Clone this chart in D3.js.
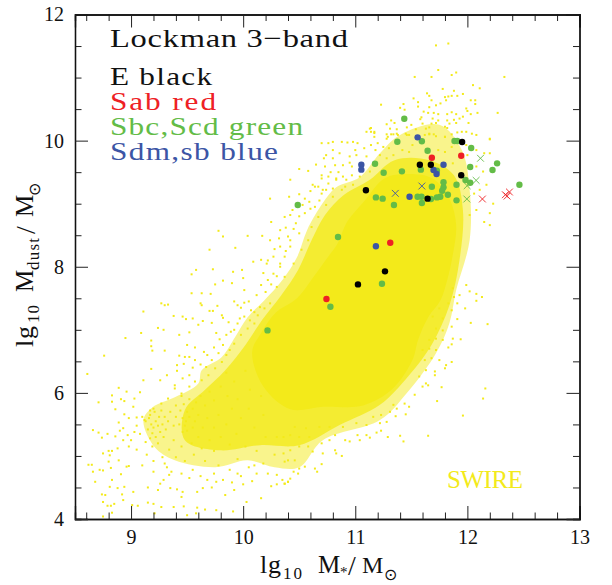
<!DOCTYPE html>
<html><head><meta charset="utf-8">
<script src="https://cdnjs.cloudflare.com/ajax/libs/d3/7.8.5/d3.min.js"></script>
<style>html,body{margin:0;background:#fff}svg{display:block}text{font-family:"Liberation Serif",serif}</style>
</head><body><svg id="c" width="612" height="585"></svg>
<script>
// All values are read by eye from the picture, in axis units.
const xMajor=[9,10,11,12,13];
const yMajor=[4,6,8,10,12];
const xMinor=[8.6,8.8,9.2,9.4,9.6,9.8,10.2,10.4,10.6,10.8,11.2,11.4,11.6,11.8,12.2,12.4,12.6,12.8];
const yMinor=[4.5,5,5.5,6.5,7,7.5,8.5,9,9.5,10.5,11,11.5];

// Outlines of the cloud's density: solid centre, thick band, thin surround.
const cloudCore=[[10.08,6.65],[10.16,6.95],[10.29,7.27],[10.48,7.50],[10.64,7.87],[10.75,8.14],[10.84,8.36],[10.93,8.72],[11.08,9.04],[11.26,9.40],[11.46,9.47],[11.69,9.40],[11.84,9.08],[11.90,8.66],[11.87,8.19],[11.82,7.79],[11.76,7.47],[11.65,7.20],[11.56,6.84],[11.51,6.52],[11.33,6.06],[11.07,5.80],[10.71,5.78],[10.42,5.74],[10.18,6.10]];
const cloudBand=[[9.48,5.25],[9.48,5.73],[9.66,6.05],[9.84,6.36],[10.02,6.76],[10.17,7.16],[10.34,7.55],[10.49,7.95],[10.61,8.42],[10.73,8.82],[10.90,9.14],[11.13,9.38],[11.35,9.69],[11.66,9.69],[11.88,9.45],[11.96,8.90],[11.93,8.11],[11.84,7.39],[11.68,6.76],[11.48,6.28],[11.22,5.81],[10.86,5.49],[10.50,5.17],[10.15,5.17],[9.79,5.09]];
const cloudSurround=[[9.11,5.57],[9.19,5.77],[9.39,5.93],[9.60,6.15],[9.63,6.36],[9.81,6.57],[9.93,6.89],[10.04,7.20],[10.19,7.47],[10.35,7.79],[10.48,8.15],[10.57,8.58],[10.71,9.01],[10.83,9.26],[11.04,9.42],[11.22,9.80],[11.40,10.09],[11.75,10.25],[11.95,9.85],[12.02,9.22],[12.02,8.42],[11.90,7.63],[11.84,7.11],[11.72,6.63],[11.46,6.00],[11.22,5.57],[10.71,5.25],[10.50,4.82],[10.28,4.82],[10.04,4.93],[9.75,4.82],[9.39,4.93],[9.21,5.14]];

const cloudLowerLeft=[[9.27,7.42],[9.30,7.39],[9.33,7.40],[9.62,7.42],[9.63,7.39],[9.77,7.38],[9.92,7.45],[9.95,7.39],[10.01,7.43],[9.11,7.29],[9.38,7.22],[9.46,7.21],[9.49,7.17],[9.55,7.18],[9.70,7.30],[9.73,7.30],[9.81,7.23],[9.82,7.19],[9.60,7.08],[9.64,7.14],[9.72,7.11],[9.24,7.03],[9.29,7.00],[9.09,6.95],[9.52,6.96],[9.43,6.92],[8.95,6.87],[9.18,6.83],[9.18,6.74],[9.19,6.67],[9.30,6.67],[8.76,6.59],[9.50,6.76],[9.57,6.72],[9.65,6.65],[9.43,6.59],[9.48,6.57],[9.52,6.57],[9.57,6.52],[9.41,6.44],[9.47,6.46],[9.18,6.38],[9.41,6.35],[8.61,6.30],[9.11,6.20],[9.26,6.20],[9.32,6.28],[9.39,6.12],[9.46,6.23],[9.52,6.28],[8.89,6.08],[8.96,6.02],[8.83,5.96],[8.91,5.90],[9.08,6.01],[8.94,5.87],[9.03,5.91],[8.71,5.85],[8.83,5.86],[9.02,5.78],[8.86,5.74],[8.94,5.66],[8.98,5.60],[9.05,5.61],[8.89,5.53],[8.66,5.41],[8.71,5.37],[8.79,5.35],[8.74,5.29],[8.93,5.44],[8.86,5.31],[8.97,5.33],[8.93,5.25],[8.88,5.12],[8.80,5.08],[8.83,5.08],[8.75,5.04],[8.81,5.01],[8.62,4.86],[8.65,4.86],[8.89,4.93],[8.80,4.91],[8.66,4.75],[8.72,4.78],[8.75,4.77],[8.82,4.81],[8.96,4.83],[8.98,4.84],[8.91,4.71],[8.83,4.62],[8.81,4.51],[8.68,4.59],[8.94,4.51],[8.88,4.49],[8.74,4.39],[8.77,4.38],[8.92,4.39],[9.02,4.43],[9.15,4.50],[9.24,4.46],[9.26,4.56],[9.29,4.62],[9.36,4.75],[9.34,4.70],[9.41,4.47],[9.35,4.49],[9.46,4.43],[9.45,4.35],[9.59,4.43],[9.64,4.49],[9.72,4.50],[9.76,4.59],[9.84,4.38],[9.92,4.46],[8.75,4.27],[8.79,4.21],[8.82,4.21],[8.85,4.24],[8.93,4.30],[9.01,4.22],[9.06,4.21],[9.15,4.26],[9.20,4.24],[9.27,4.19],[9.38,4.19],[9.47,4.20],[9.59,4.18],[9.66,4.15],[9.76,4.14],[9.91,4.12],[10.03,4.27],[10.16,4.33],[10.25,4.52],[10.37,4.56],[10.40,4.59],[8.83,4.10],[8.75,4.04],[9.21,4.09],[9.50,4.06],[9.58,4.09],
[9.10,5.62],[9.13,5.55],[9.16,5.60],[9.18,5.50],[9.15,5.42],[9.20,5.45],[9.22,5.55],[9.24,5.48],[9.19,5.36],[9.22,5.30],[9.17,5.28],[9.26,5.38],[9.28,5.50],[9.25,5.62],[9.21,5.70],[9.17,5.72],[9.27,5.72],[9.30,5.62],[9.33,5.55],[9.31,5.42],[9.29,5.30],[9.24,5.20],[9.19,5.15],[9.13,5.22],[9.08,5.35],[9.05,5.48],
[9.40,5.80],[9.44,5.72],[9.47,5.82],[9.50,5.70],[9.46,5.60],[9.49,5.55],[9.52,5.62],[9.48,5.48],[9.50,5.40],[9.46,5.38],[9.43,5.50],[9.40,5.62],[9.38,5.48],[9.35,5.70],[9.55,5.75],[9.57,5.55],[9.55,5.45],[9.60,5.65],[9.58,5.85],[9.52,5.90],[9.45,5.95],[9.62,5.95],[9.66,5.80],[9.68,5.60],[9.64,5.45],[9.60,5.30],[9.54,5.20],[9.45,5.15],[9.38,5.25],[9.34,5.10],[9.40,4.98],[9.48,4.92],[9.56,5.02],[9.63,5.12],[9.70,5.25],[9.74,5.45],[9.78,5.65],[9.74,5.88],[9.70,6.02],[9.80,6.10],[9.86,5.95],[9.90,5.75],[9.85,5.50],[9.80,5.30],[9.74,5.08],[9.66,4.92],[9.88,5.18],[9.94,5.35],[9.98,5.60],[9.95,5.90],[9.92,6.18],[9.85,6.32],[10.02,6.35],[10.06,6.05],[10.05,5.75],[10.10,5.45],[10.02,5.15],[9.95,4.95],[10.12,5.08],[10.20,5.30],[10.18,5.65],[10.16,5.95],[9.78,4.85],[9.88,4.78],[10.05,4.82],[10.18,4.88],[10.28,5.02],[10.30,5.30],[9.20,4.92],[9.28,4.98],[9.14,5.02],[9.32,4.82],[9.55,4.78],[9.62,4.68],[9.98,4.68],[9.74,4.72]];

const cloudTop=[[11.72,11.51],[11.83,11.54],[11.74,11.12],[11.86,11.04],[11.90,11.08],[11.53,11.01],[11.68,11.01],[12.33,11.01],[12.05,10.88],[12.11,10.83],[11.78,10.82],[11.88,10.79],[11.64,10.75],[11.66,10.71],[11.96,10.74],[11.52,10.67],[11.80,10.69],[11.83,10.70],[11.86,10.71],[11.91,10.71],[11.81,10.64],[11.68,10.64],[12.03,10.64],[12.07,10.64],[11.56,10.61],[11.76,10.59],[12.07,10.58],[11.23,10.57],[11.43,10.58],[11.72,10.56],[11.56,10.54],[11.40,10.52],[11.66,10.53],[11.44,10.49],[11.61,10.46],[11.99,10.51],[12.00,10.47],[11.86,10.45],[12.27,10.44],[12.09,10.44],[12.03,10.42],[11.65,10.44],[11.70,10.44],[11.82,10.42],[11.90,10.42],[11.74,10.42],[11.59,10.37],[11.96,10.38],[11.69,10.35],[11.93,10.35],[11.88,10.33],[11.82,10.32],[11.32,10.32],[11.74,10.32],[11.58,10.34],[11.84,10.27],[11.90,10.28],[11.72,10.28],[11.68,10.27],[11.28,10.26],[11.35,10.28],[11.60,10.27],[12.01,10.28],[11.80,10.22],[11.66,10.21],[11.82,10.20],[11.63,10.19],[11.31,10.19],[11.37,10.18],[11.46,10.21],[11.54,10.18],[11.50,10.25],[11.14,10.20],[11.10,10.14],[11.14,10.14],[11.17,10.12],[11.28,10.10],[11.32,10.10],[11.34,10.10],[11.38,10.09],[11.46,10.09],[11.48,10.09],[11.62,10.09],[11.66,10.10],[11.70,10.10],[11.72,10.07],[11.80,10.06],[11.86,10.10],[11.91,10.13],[11.95,10.14],[11.99,10.14],[12.04,10.11],[12.08,10.09],[12.20,10.03],[11.17,10.06],[11.28,10.03],
[11.17,10.14],[11.13,10.19],[11.02,9.96],[10.98,9.98],[10.93,9.97],[10.88,9.98],[10.80,9.98],[10.76,9.96],[10.70,9.96],[11.08,9.88],[11.14,9.93],[11.20,9.96],[11.29,10.06],[11.37,10.11],[11.45,10.11],[11.66,10.11],[11.80,10.06],[11.99,9.93],[12.20,10.02],[12.20,9.80],[12.15,9.80],[12.08,9.85],[12.00,9.77],[12.08,9.59],[12.14,9.51],[12.17,9.30],[12.11,9.22],[12.23,9.00],[12.20,8.85],[12.15,8.71],[12.20,8.66],[12.08,8.90],[12.02,8.82],[12.06,9.16],[11.95,9.77],[11.87,9.64],[11.86,9.90],[11.80,9.82],[11.74,9.85],[11.51,9.93],[11.48,9.82],[11.42,9.85],[11.34,9.77],[11.28,9.72],[11.22,9.77],[11.10,9.75],[11.01,9.77],[10.95,9.75],[10.86,9.80],[10.80,9.72],[10.74,9.77],[10.97,9.59],[10.89,9.61],[10.82,9.61],[10.73,9.59],[11.13,9.51],[11.04,9.43],[10.97,9.45],[10.89,9.43],[10.83,9.40],[10.76,9.43],[10.70,9.45],[10.98,9.30],[10.91,9.27],[10.80,9.24],[10.71,9.22]];

const cloudUpperLeft=[[9.78,8.57],[9.82,8.48],[9.70,8.27],[9.93,8.30],[10.04,8.49],[10.17,8.49],[10.24,8.42],[10.24,9.08],[10.42,9.38],[10.50,9.55],[10.58,9.52],[10.41,9.11],[10.67,9.27],[10.64,9.27],[10.55,9.08],[10.53,8.98],[10.59,9.03],[10.64,8.95],[10.70,9.16],[10.42,8.82],[10.37,8.79],[10.33,8.58],[10.25,8.71],[10.21,8.05],[10.16,8.11],[10.09,8.08],[9.99,7.95],[10.00,7.82],[9.91,7.92],[9.73,7.96],[9.58,7.95],[9.54,7.88],[9.75,7.72],[9.82,7.78],[9.90,7.74],[10.01,7.63],[10.16,7.71],[9.71,7.57],[9.63,7.58],[9.54,7.58],[10.27,8.16],[10.33,8.32],[10.40,8.48],[10.47,8.69],[10.50,8.53],[10.42,8.32],[10.37,8.16],[10.33,8.00],[10.27,7.89],[10.22,7.79],[10.30,7.68],[10.37,7.84],[10.45,8.05],[10.52,8.27],[10.58,8.42],[10.61,8.63],[10.67,8.79],[10.74,8.98],[10.80,9.11],[10.88,9.22],[10.92,9.38],[10.83,9.38],[10.76,9.32],[10.74,9.22]];

const cloudLowerRight=[[11.99,7.71],[12.02,7.61],[12.08,7.57],[12.13,7.52],[12.08,7.46],[11.98,7.34],[11.91,7.17],[12.03,7.11],[12.18,7.09],[11.94,6.85],[11.87,6.86],[11.86,6.77],[11.83,6.72],[11.86,6.49],[11.81,6.44],[11.80,6.39],[11.71,6.28],[11.65,6.12],[11.77,6.09],[12.16,6.07],[12.14,5.91],[11.73,5.87],[11.48,5.78],[11.37,5.75],[11.96,5.64],[11.45,5.66],[11.36,5.63],[11.31,5.70],[11.28,5.54],[11.22,5.52],[11.19,5.37],[11.23,5.40],[11.10,5.33],[11.13,5.29],[11.02,5.33],[11.04,5.25],[11.29,5.30],[11.40,5.32],[11.43,5.23],[11.65,5.32],[10.88,5.00],[10.83,5.04],[10.82,5.09],[10.95,5.23],[10.91,5.25],[10.70,4.87],[10.64,4.80],[10.66,4.75],[10.55,4.83],[10.50,4.80],[10.49,4.72],[10.45,4.75],[10.42,4.64],[10.40,4.59],[10.37,4.56],[10.46,4.93],[10.40,4.93],[10.37,4.91],[10.36,5.04],[10.42,5.09],[10.50,5.15],[10.58,5.15],[10.62,5.07],[10.71,5.04],[10.70,5.20],[10.77,5.25],[10.82,5.33],[10.59,5.30],[10.50,5.30],[10.42,5.33],[10.36,5.30],[10.46,5.46],[10.56,5.44],[10.68,5.46],[10.77,5.46],[10.89,5.46],[11.01,5.52],[11.10,5.49],[11.16,5.62],[11.23,5.65],[11.34,5.81],[11.44,5.83],[11.53,5.97],[11.60,6.10],[11.63,6.15],[11.57,6.26],[11.63,6.36],[11.71,6.34],[11.62,6.52],[11.68,6.55],[11.75,6.52],[11.72,6.68],[11.66,6.70],[11.60,6.68],[11.78,6.84],[11.72,6.86],[11.66,6.84],[11.86,7.05],[11.78,6.99],[11.72,7.02],[11.69,7.21],[11.78,7.18],[11.86,7.31],[11.91,7.42],[11.88,7.52],[11.93,7.55],[11.87,7.66],[11.83,7.42],[11.75,7.34]];

const cloudFringe=[[9.63,6.20],[9.69,6.28],[9.75,6.39],[9.81,6.49],[9.85,6.60],[9.88,6.68],[9.92,6.78],[9.98,6.92],[10.04,7.02],[10.10,7.10],[10.13,7.23],[10.19,7.34],[10.24,7.42],[9.67,6.41],[9.72,6.52],[9.78,6.63],[9.82,6.76],[9.89,6.97],[9.95,7.10],[10.01,7.21],[10.07,7.31],[9.52,6.10],[9.57,6.18],[9.45,5.99],[9.39,6.07],[9.33,5.91],[9.27,5.83],[9.20,5.75],[9.17,5.65],[9.12,5.57],[9.55,6.40],[9.62,6.45],[9.68,6.60],[9.74,6.72],[9.79,6.85],[9.85,6.92],[9.92,7.00],[9.97,7.18],[10.06,7.15],[10.10,7.28],[10.15,7.36],[9.98,7.35],[9.87,7.12],[9.76,6.95],
[10.05,7.45],[10.12,7.55],[10.20,7.60],[10.25,7.72],[10.30,7.85],[10.33,8.05],[10.38,8.25],[10.42,8.42],[10.45,8.60],[10.50,8.80],[10.55,8.85],[10.60,8.92],[10.18,7.90],[10.22,8.10],[10.28,8.28],[10.32,8.45],[10.38,8.62],[10.44,8.90],[10.50,9.15],[10.60,9.20],[10.68,9.05],[10.62,9.30],[10.70,9.40],[10.78,9.50],[10.85,9.50],[10.95,9.65],[10.65,9.62],[10.72,9.72],[10.80,9.85],[11.00,9.85],[11.05,9.60],[11.18,9.85],[11.25,9.90],[11.30,9.88],
[9.45,4.72],[9.52,4.65],[9.68,4.62],[9.82,4.62],[9.90,4.58],[10.00,4.55],[10.08,4.60],[10.12,4.72],[10.22,4.72],[10.30,4.70],[10.35,4.62],[10.30,4.55],[9.95,4.72],[10.10,4.85],[9.30,4.88],[9.20,4.75],[9.10,4.85],[9.05,5.10],[9.00,5.25],[9.03,5.38],[8.98,5.15],[8.90,5.40]];

const greenDots=[[11.437,10.347],[11.375,9.983],[11.594,9.989],[11.885,9.994],[11.91,9.994],[11.645,9.84],[12.034,9.883],[11.176,9.634],[11.253,9.491],[11.416,9.513],[11.585,9.54],[12.265,9.64],[12.224,9.534],[12.025,9.581],[11.728,9.523],[11.787,9.339],[11.903,9.3],[11.983,9.375],[12.025,9.332],[11.683,9.269],[11.787,9.259],[11.775,9.205],[11.826,9.142],[11.758,9.11],[11.728,9.1],[11.675,9.074],[11.556,9.11],[11.591,9.11],[11.184,9.1],[11.244,9.08],[11.345,8.979],[11.594,9.01],[11.903,9.053],[12.464,9.3],[10.487,8.979],[10.846,8.471],[11.238,7.73],[10.778,7.366],[10.217,6.991]];
const blueDots=[[11.556,10.052],[11.054,9.618],[11.054,9.54],[11.787,9.618],[11.698,9.534],[11.725,9.47],[11.484,9.11],[11.184,8.324]];
const blackDots=[[11.953,9.978],[11.576,9.618],[11.674,9.618],[11.945,9.45],[11.095,9.212],[11.645,9.08],[11.265,7.927],[11.024,7.72]];
const redDots=[[11.683,9.729],[11.945,9.76],[11.312,8.381],[10.743,7.488]];
const greenCrosses=[[12.117,9.72],[12.078,9.37],[11.998,9.285],[11.995,9.074]];
const blueCrosses=[[11.357,9.164],[11.594,9.28]];
const redCrosses=[[12.134,9.074],[12.339,9.142],[12.375,9.185],[12.354,9.12]];

const YEL="#f3ea1a",GRN="#63bc47",RED="#ee2024",BLU="#3c55a5",INK="#111";
const x=d3.scaleLinear().domain([8.5,13]).range([75,579.5]);
const y=d3.scaleLinear().domain([4,12]).range([519,14.5]);
const svg=d3.select("#c");

const area=d3.line().x(d=>x(d[0])).y(d=>y(d[1])).curve(d3.curveCatmullRomClosed.alpha(.5));
svg.append("path").attr("d",area(cloudSurround)).attr("fill",YEL).attr("opacity",.5);
svg.append("path").attr("d",area(cloudBand)).attr("fill",YEL).attr("opacity",.8);
svg.append("path").attr("d",area(cloudCore)).attr("fill",YEL);
const cloud=[...cloudLowerLeft,...cloudTop,...cloudUpperLeft,...cloudLowerRight,...cloudFringe];
svg.append("g").selectAll("rect").data(cloud).join("rect")
 .attr("x",d=>x(d[0])-1).attr("y",d=>y(d[1])-1).attr("width",2).attr("height",2).attr("fill",YEL);

[[greenDots,GRN],[blueDots,BLU],[redDots,RED],[blackDots,"#000"]].forEach(([a,c])=>{
 svg.append("g").selectAll("circle").data(a).join("circle")
  .attr("cx",d=>x(d[0])).attr("cy",d=>y(d[1])).attr("r",3.2).attr("fill",c);
});
[[greenCrosses,GRN],[blueCrosses,BLU],[redCrosses,RED]].forEach(([a,c])=>{
 svg.append("g").selectAll("path").data(a).join("path")
  .attr("d",d=>{const X=x(d[0]),Y=y(d[1]),s=3.4;return `M${X-s},${Y-s}L${X+s},${Y+s}M${X-s},${Y+s}L${X+s},${Y-s}`;})
  .attr("stroke",c).attr("stroke-width",.9).attr("fill","none");
});

function axes(){
 const mk=[
  [d3.axisBottom(x),"translate(0,519)",xMajor,xMinor,true],
  [d3.axisTop(x),"translate(0,14.5)",xMajor,xMinor,false],
  [d3.axisLeft(y),"translate(75,0)",yMajor,yMinor,true],
  [d3.axisRight(y),"translate(579.5,0)",yMajor,yMinor,false]];
 mk.forEach(([ax,t,maj,min,lab])=>{
  const g=svg.append("g").attr("transform",t);
  g.call(ax.tickValues(min).tickSize(-6.5).tickFormat(""));
  const g2=svg.append("g").attr("transform",t);
  g2.call(ax.tickValues(maj).tickSize(-13).tickPadding(11).tickFormat(lab?d3.format("d"):""));
  svg.selectAll("path.domain").attr("stroke",INK).attr("stroke-width",1.3);
  [g,g2].forEach(s=>s.selectAll("line").attr("stroke","#222").attr("stroke-width",1));
  g2.selectAll("text").attr("font-size",20).attr("fill",INK).attr("font-family","Liberation Serif");
 });
}
axes();

function wide(t,px,py,size,w,col){
 const k=1.25;
 svg.append("text").attr("transform",`translate(${px},${py}) scale(${k},1)`).attr("font-size",size).attr("fill",col||INK)
  .attr("textLength",w/k).attr("lengthAdjust","spacing").text(t);
}
function label(t,px,py,size,w,col){
 svg.append("text").attr("x",px).attr("y",py).attr("font-size",size).attr("fill",col||INK)
  .attr("textLength",w).attr("lengthAdjust","spacing").text(t);
}
wide("Lockman 3\u2212band",110,47,26,238);
wide("E black",110,85,25,102);
wide("Sab red",110,110,25,106,RED);
wide("Sbc,Scd green",110,135,25,193,GRN);
wide("Sdm,sb blue",110,160,25,168,BLU);
label("SWIRE",447,488,25,76,YEL);

// x-axis title pieces
label("lg",260,573,26,21);
label("10",283,579,17,19);
label("M",318,573,25,21);
label("*",340,577,15,7);
label("/",348,575,28,8);
label("M",362,573,24,21);
label("\u2299",384,580,16,11);

// y-axis title pieces (rotated)
const yt=svg.append("g").attr("transform","translate(33,347) rotate(-90)");
function ylab(t,dx,dy,size,w){yt.append("text").attr("x",dx).attr("y",dy).attr("font-size",size).attr("fill",INK).attr("textLength",w).attr("lengthAdjust","spacing").text(t);}
ylab("lg",0,0,26,21);
ylab("10",24,6,17,18);
ylab("M",55,0,25,21);
ylab("dust",77,6,17,32);
ylab("/",113,2,28,8);
ylab("M",130,0,25,20);
ylab("\u2299",151,7,16,10);
</script></body></html>
